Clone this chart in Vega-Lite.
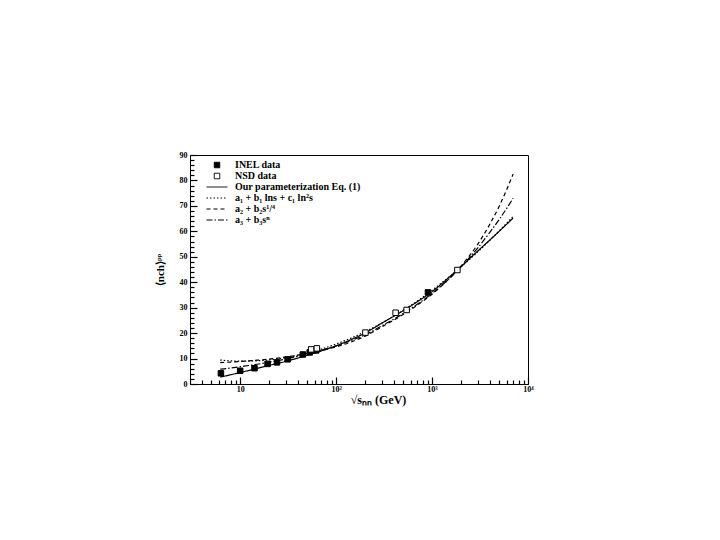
{
  "$schema": "https://vega.github.io/schema/vega-lite/v6.json",
  "width": 338,
  "height": 229,
  "autosize": "none",
  "padding": {"left": 190, "top": 155, "right": 192, "bottom": 156},
  "background": "white",
  "config": {
    "view": {"stroke": "black", "strokeWidth": 1},
    "axis": {
      "labelFont": "Liberation Serif", "labelFontWeight": "bold", "labelFontSize": 8, "labelColor": "black",
      "titleFont": "Liberation Serif", "titleFontWeight": "bold", "titleFontSize": 12, "titleColor": "black",
      "domainColor": "black", "tickColor": "black", "tickOpacity": 1, "grid": false, "labelFlush": false, "labelOverlap": false
    },
    "legend": {
      "labelFont": "Liberation Serif", "labelFontWeight": "bold", "labelFontSize": 10, "labelColor": "black",
      "symbolSize": 100, "symbolStrokeWidth": 1, "rowPadding": 0, "labelOffset": 12.5, "padding": 0
    }
  },
  "datasets": {
    "points": [
      {"s": 6.3, "n": 4.2, "series": "INEL data"},
      {"s": 10.0, "n": 5.2, "series": "INEL data"},
      {"s": 14.1, "n": 6.2, "series": "INEL data"},
      {"s": 19.3, "n": 7.9, "series": "INEL data"},
      {"s": 24.2, "n": 8.5, "series": "INEL data"},
      {"s": 31.2, "n": 9.7, "series": "INEL data"},
      {"s": 45, "n": 11.6, "series": "INEL data"},
      {"s": 53, "n": 12.4, "series": "INEL data"},
      {"s": 62, "n": 13.2, "series": "INEL data"},
      {"s": 906, "n": 36.0, "series": "INEL data"},
      {"s": 55, "n": 13.6, "series": "NSD data"},
      {"s": 63, "n": 14.0, "series": "NSD data"},
      {"s": 202, "n": 20.2, "series": "NSD data"},
      {"s": 417, "n": 28.0, "series": "NSD data"},
      {"s": 543, "n": 29.1, "series": "NSD data"},
      {"s": 1837, "n": 44.8, "series": "NSD data"}
    ],
    "curves": [
      {"s": 6.2, "n": 2.7, "series": "Our parameterization Eq. (1)"},
      {"s": 8, "n": 3.65, "series": "Our parameterization Eq. (1)"},
      {"s": 10, "n": 4.5, "series": "Our parameterization Eq. (1)"},
      {"s": 15, "n": 6.1, "series": "Our parameterization Eq. (1)"},
      {"s": 20, "n": 7.3, "series": "Our parameterization Eq. (1)"},
      {"s": 30, "n": 8.9, "series": "Our parameterization Eq. (1)"},
      {"s": 50, "n": 11.3, "series": "Our parameterization Eq. (1)"},
      {"s": 70, "n": 13.0, "series": "Our parameterization Eq. (1)"},
      {"s": 100, "n": 15.0, "series": "Our parameterization Eq. (1)"},
      {"s": 150, "n": 17.8, "series": "Our parameterization Eq. (1)"},
      {"s": 200, "n": 20.0, "series": "Our parameterization Eq. (1)"},
      {"s": 300, "n": 23.9, "series": "Our parameterization Eq. (1)"},
      {"s": 500, "n": 28.8, "series": "Our parameterization Eq. (1)"},
      {"s": 700, "n": 32.3, "series": "Our parameterization Eq. (1)"},
      {"s": 1000, "n": 36.3, "series": "Our parameterization Eq. (1)"},
      {"s": 1500, "n": 41.9, "series": "Our parameterization Eq. (1)"},
      {"s": 2000, "n": 46.1, "series": "Our parameterization Eq. (1)"},
      {"s": 3000, "n": 52.3, "series": "Our parameterization Eq. (1)"},
      {"s": 4000, "n": 56.6, "series": "Our parameterization Eq. (1)"},
      {"s": 5000, "n": 60.0, "series": "Our parameterization Eq. (1)"},
      {"s": 7000, "n": 65.2, "series": "Our parameterization Eq. (1)"},
      {"s": 6.2, "n": 9.4, "series": "a₁ + b₁ lns + c₁ ln²s"},
      {"s": 8, "n": 9.1, "series": "a₁ + b₁ lns + c₁ ln²s"},
      {"s": 10, "n": 9.0, "series": "a₁ + b₁ lns + c₁ ln²s"},
      {"s": 15, "n": 9.12, "series": "a₁ + b₁ lns + c₁ ln²s"},
      {"s": 20, "n": 9.49, "series": "a₁ + b₁ lns + c₁ ln²s"},
      {"s": 30, "n": 10.4, "series": "a₁ + b₁ lns + c₁ ln²s"},
      {"s": 50, "n": 12.17, "series": "a₁ + b₁ lns + c₁ ln²s"},
      {"s": 70, "n": 13.72, "series": "a₁ + b₁ lns + c₁ ln²s"},
      {"s": 100, "n": 15.7, "series": "a₁ + b₁ lns + c₁ ln²s"},
      {"s": 150, "n": 18.38, "series": "a₁ + b₁ lns + c₁ ln²s"},
      {"s": 200, "n": 20.54, "series": "a₁ + b₁ lns + c₁ ln²s"},
      {"s": 300, "n": 23.98, "series": "a₁ + b₁ lns + c₁ ln²s"},
      {"s": 500, "n": 28.95, "series": "a₁ + b₁ lns + c₁ ln²s"},
      {"s": 700, "n": 32.6, "series": "a₁ + b₁ lns + c₁ ln²s"},
      {"s": 1000, "n": 36.81, "series": "a₁ + b₁ lns + c₁ ln²s"},
      {"s": 1500, "n": 42.02, "series": "a₁ + b₁ lns + c₁ ln²s"},
      {"s": 2000, "n": 45.98, "series": "a₁ + b₁ lns + c₁ ln²s"},
      {"s": 3000, "n": 51.96, "series": "a₁ + b₁ lns + c₁ ln²s"},
      {"s": 4000, "n": 56.47, "series": "a₁ + b₁ lns + c₁ ln²s"},
      {"s": 5000, "n": 60.12, "series": "a₁ + b₁ lns + c₁ ln²s"},
      {"s": 7000, "n": 65.87, "series": "a₁ + b₁ lns + c₁ ln²s"},
      {"s": 6.2, "n": 8.4, "series": "a₂ + b₂s¹/⁴"},
      {"s": 8, "n": 8.62, "series": "a₂ + b₂s¹/⁴"},
      {"s": 10, "n": 8.84, "series": "a₂ + b₂s¹/⁴"},
      {"s": 15, "n": 9.35, "series": "a₂ + b₂s¹/⁴"},
      {"s": 20, "n": 9.8, "series": "a₂ + b₂s¹/⁴"},
      {"s": 30, "n": 10.6, "series": "a₂ + b₂s¹/⁴"},
      {"s": 50, "n": 12.0, "series": "a₂ + b₂s¹/⁴"},
      {"s": 70, "n": 13.1, "series": "a₂ + b₂s¹/⁴"},
      {"s": 100, "n": 14.6, "series": "a₂ + b₂s¹/⁴"},
      {"s": 150, "n": 16.8, "series": "a₂ + b₂s¹/⁴"},
      {"s": 200, "n": 18.8, "series": "a₂ + b₂s¹/⁴"},
      {"s": 300, "n": 22.5, "series": "a₂ + b₂s¹/⁴"},
      {"s": 500, "n": 27.3, "series": "a₂ + b₂s¹/⁴"},
      {"s": 700, "n": 31.0, "series": "a₂ + b₂s¹/⁴"},
      {"s": 1000, "n": 35.3, "series": "a₂ + b₂s¹/⁴"},
      {"s": 1500, "n": 41.3, "series": "a₂ + b₂s¹/⁴"},
      {"s": 2000, "n": 46.3, "series": "a₂ + b₂s¹/⁴"},
      {"s": 3000, "n": 55.0, "series": "a₂ + b₂s¹/⁴"},
      {"s": 4000, "n": 62.8, "series": "a₂ + b₂s¹/⁴"},
      {"s": 5000, "n": 69.8, "series": "a₂ + b₂s¹/⁴"},
      {"s": 7000, "n": 82.5, "series": "a₂ + b₂s¹/⁴"},
      {"s": 6.2, "n": 5.82, "series": "a₃ + b₃sⁿ"},
      {"s": 8, "n": 6.3, "series": "a₃ + b₃sⁿ"},
      {"s": 10, "n": 6.8, "series": "a₃ + b₃sⁿ"},
      {"s": 15, "n": 7.75, "series": "a₃ + b₃sⁿ"},
      {"s": 20, "n": 8.55, "series": "a₃ + b₃sⁿ"},
      {"s": 30, "n": 9.85, "series": "a₃ + b₃sⁿ"},
      {"s": 50, "n": 11.8, "series": "a₃ + b₃sⁿ"},
      {"s": 70, "n": 13.3, "series": "a₃ + b₃sⁿ"},
      {"s": 100, "n": 15.0, "series": "a₃ + b₃sⁿ"},
      {"s": 150, "n": 17.4, "series": "a₃ + b₃sⁿ"},
      {"s": 200, "n": 19.3, "series": "a₃ + b₃sⁿ"},
      {"s": 300, "n": 22.9, "series": "a₃ + b₃sⁿ"},
      {"s": 500, "n": 27.7, "series": "a₃ + b₃sⁿ"},
      {"s": 700, "n": 31.3, "series": "a₃ + b₃sⁿ"},
      {"s": 1000, "n": 35.6, "series": "a₃ + b₃sⁿ"},
      {"s": 1500, "n": 41.3, "series": "a₃ + b₃sⁿ"},
      {"s": 2000, "n": 46.0, "series": "a₃ + b₃sⁿ"},
      {"s": 3000, "n": 53.5, "series": "a₃ + b₃sⁿ"},
      {"s": 4000, "n": 59.6, "series": "a₃ + b₃sⁿ"},
      {"s": 5000, "n": 64.6, "series": "a₃ + b₃sⁿ"},
      {"s": 7000, "n": 73.0, "series": "a₃ + b₃sⁿ"}
    ]
  },
  "encoding": {
    "x": {
      "field": "s", "type": "quantitative",
      "scale": {"type": "log", "domain": [3, 10000], "nice": false},
      "axis": {
        "title": "√sₙₙ (GeV)",
        "values": [3,4,5,6,7,8,9,10,20,30,40,50,60,70,80,90,100,200,300,400,500,600,700,800,900,1000,2000,3000,4000,5000,6000,7000,8000,9000,10000],
        "labelExpr": "datum.value == 10 ? '10' : datum.value == 100 ? '10²' : datum.value == 1000 ? '10³' : datum.value == 10000 ? '10⁴' : ''",
        "ticks": true,
        "tickSize": {"condition": {"test": "datum.value == 10 || datum.value == 100 || datum.value == 1000 || datum.value == 10000", "value": -7}, "value": -4},
        "tickWidth": 1.2,
        "labelPadding": 8,
        "titleX": 188,
        "titleY": 10,
        "titleBaseline": "top"
      }
    },
    "y": {
      "field": "n", "type": "quantitative",
      "scale": {"domain": [0, 90], "nice": false},
      "axis": {
        "title": "⟨nch⟩ᵖᵖ",
        "titleFontSize": 11,
        "values": [0,2,4,6,8,10,12,14,16,18,20,22,24,26,28,30,32,34,36,38,40,42,44,46,48,50,52,54,56,58,60,62,64,66,68,70,72,74,76,78,80,82,84,86,88,90],
        "labelExpr": "datum.value % 10 == 0 ? datum.label : ''",
        "ticks": true,
        "tickSize": {"condition": {"test": "datum.value % 10 == 0", "value": -7}, "value": -4},
        "tickWidth": 1.2,
        "labelPadding": 10,
        "titlePadding": 14
      }
    }
  },
  "layer": [
    {
      "data": {"name": "curves"},
      "mark": {"type": "line", "strokeWidth": 1.2, "interpolate": "monotone"},
      "encoding": {
        "stroke": {
          "field": "series", "type": "nominal",
          "scale": {"domain": ["INEL data", "NSD data", "Our parameterization Eq. (1)", "a₁ + b₁ lns + c₁ ln²s", "a₂ + b₂s¹/⁴", "a₃ + b₃sⁿ"], "range": ["black", "black", "black", "black", "black", "black"]},
          "legend": {"title": null, "orient": "none", "legendX": 21.5, "legendY": 4.5}
        },
        "strokeDash": {
          "field": "series", "type": "nominal",
          "scale": {"domain": ["INEL data", "NSD data", "Our parameterization Eq. (1)", "a₁ + b₁ lns + c₁ ln²s", "a₂ + b₂s¹/⁴", "a₃ + b₃sⁿ"], "range": [[1, 0], [1, 0], [1, 0], [1.5, 2], [4, 3], [6, 2, 1.5, 2]]},
          "legend": {"title": null, "orient": "none", "legendX": 21.5, "legendY": 4.5}
        }
      }
    },
    {
      "data": {"name": "points"},
      "mark": {"type": "point", "size": 100, "strokeWidth": 1, "opacity": 1},
      "encoding": {
        "stroke": {
          "field": "series", "type": "nominal",
          "scale": {"domain": ["INEL data", "NSD data", "Our parameterization Eq. (1)", "a₁ + b₁ lns + c₁ ln²s", "a₂ + b₂s¹/⁴", "a₃ + b₃sⁿ"], "range": ["black", "black", "black", "black", "black", "black"]},
          "legend": {"title": null, "orient": "none", "legendX": 21.5, "legendY": 4.5}
        },
        "fill": {
          "field": "series", "type": "nominal",
          "scale": {"domain": ["INEL data", "NSD data", "Our parameterization Eq. (1)", "a₁ + b₁ lns + c₁ ln²s", "a₂ + b₂s¹/⁴", "a₃ + b₃sⁿ"], "range": ["black", "white", "transparent", "transparent", "transparent", "transparent"]},
          "legend": {"title": null, "orient": "none", "legendX": 21.5, "legendY": 4.5}
        },
        "shape": {
          "field": "series", "type": "nominal",
          "scale": {"domain": ["INEL data", "NSD data", "Our parameterization Eq. (1)", "a₁ + b₁ lns + c₁ ln²s", "a₂ + b₂s¹/⁴", "a₃ + b₃sⁿ"], "range": ["M-0.55,-0.55H0.55V0.55H-0.55Z", "M-0.55,-0.55H0.55V0.55H-0.55Z", "M-2.1,0H2.1", "M-2.1,0H2.1", "M-2.1,0H2.1", "M-2.1,0H2.1"]},
          "legend": {"title": null, "orient": "none", "legendX": 21.5, "legendY": 4.5}
        }
      }
    }
  ]
}
